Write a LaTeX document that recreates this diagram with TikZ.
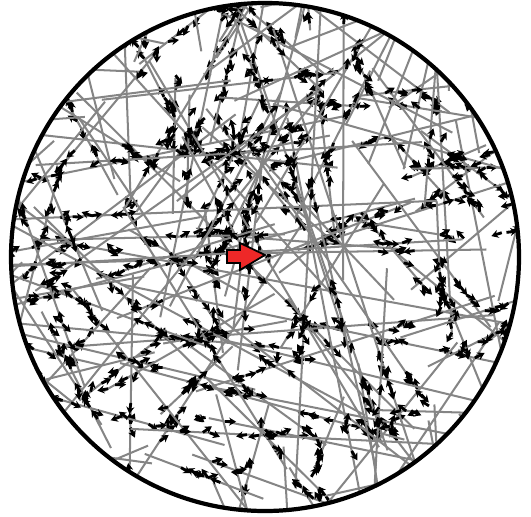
\documentclass[tikz,border=0pt]{standalone}
\usepackage{xcolor}
\usepackage{tikz}
\usetikzlibrary{calc,arrows.meta}
\definecolor{pushred}{RGB}{238,40,40}

\begin{document}
\begin{tikzpicture}[x=1cm,y=1cm,
  track/.style={black!48, line width=1.15pt},
  dart/.style={-{Stealth[length=4pt,width=4.6pt]}, line width=1.6pt, black},
  rim/.style={black, line width=2.4pt}]
  \useasboundingbox (0,0) rectangle (10.62,10.32);
  \coordinate (o) at (5.30,5.18);
  % Random tracks inside the disc, each with small clusters of arrows along it
  \begin{scope}
    \clip (o) circle (5.08cm);
    \pgfmathsetseed{4123}
    \foreach \k in {1,...,175}{
      \pgfmathsetmacro{\ang}{360*rnd}
      \pgfmathsetmacro{\rad}{5.0*sqrt(rnd)}
      \pgfmathsetmacro{\dir}{360*rnd}
      \pgfmathsetmacro{\len}{1.5+8.5*rnd}
      \draw[track] ($(o)+(\ang:\rad)$) -- ++(\dir:\len);
      \foreach \c in {1,2}{
        \pgfmathsetmacro{\tc}{\len*rnd}
        \foreach \j in {1,...,4}{
          \pgfmathsetmacro{\t}{\tc+0.45*rand}
          \pgfmathsetmacro{\adir}{\dir+180*round(rnd)+40*rand}
          \draw[dart] ($(o)+(\ang:\rad)+(\dir:\t)$) -- ++(\adir:0.22);
        }
      }
    }
  \end{scope}
  % Outer boundary
  \draw[rim] (o) circle (5.08cm);
  % Red block arrow near the centre
  \draw[fill=pushred, draw=black, line width=1pt, line join=miter]
    (4.54,5.32) -- (4.80,5.32) -- (4.80,5.46) -- (5.30,5.22)
    -- (4.80,4.92) -- (4.80,5.06) -- (4.54,5.06) -- cycle;
\end{tikzpicture}
\end{document}
